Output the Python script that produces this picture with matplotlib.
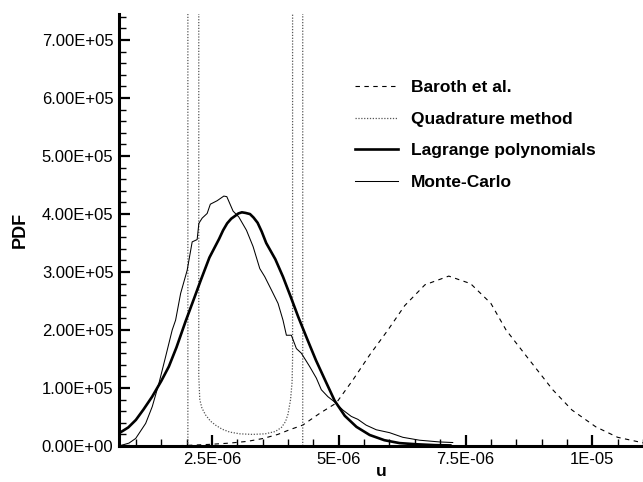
import matplotlib
matplotlib.use("Agg")
import matplotlib.pyplot as plt
from matplotlib.ticker import FixedLocator, MultipleLocator

plt.rcParams['font.family'] = ['Liberation Sans', 'DejaVu Sans']

# ---- data (u in 1e-6, PDF in 1e5) ----
baroth_u = [1.5, 2.0, 2.5, 2.85, 3.2, 3.51, 3.8, 4.03, 4.29, 4.62, 4.95, 5.28, 5.61, 5.97,
            6.3, 6.7, 7.17, 7.6, 8.0, 8.3, 8.7, 9.22, 9.6, 10.07, 10.5, 11.0]
baroth_v = [0.0, 0.01, 0.03, 0.05, 0.08, 0.13, 0.2, 0.28, 0.36, 0.56, 0.74, 1.14, 1.57, 2.0,
            2.42, 2.78, 2.93, 2.80, 2.46, 2.0, 1.55, 0.97, 0.62, 0.33, 0.15, 0.055]

quad_u = [0.94, 2.025, 2.025, 2.24, 2.24, 2.26, 2.30, 2.37, 2.47, 2.57, 2.70, 2.85, 3.05,
          3.30, 3.55, 3.75, 3.87, 3.95, 4.00, 4.05, 4.08, 4.09, 4.09, 4.29, 4.29, 9.10]
quad_v = [0, 0, 20, 20, 1.2, 0.80, 0.66, 0.54, 0.43, 0.36, 0.29, 0.24, 0.21,
          0.20, 0.21, 0.25, 0.32, 0.42, 0.55, 0.80, 1.10, 1.50, 20, 20, 0, 0]

lag_u = [0.667, 0.85, 1.0, 1.15, 1.32, 1.5, 1.65, 1.8, 1.98, 2.15, 2.28, 2.45, 2.64, 2.72,
         2.8, 2.88, 2.96, 3.02, 3.09, 3.16, 3.25, 3.32, 3.40, 3.48, 3.57, 3.75, 3.90, 4.05,
         4.20, 4.38, 4.55, 4.75, 4.92, 5.12, 5.35, 5.61, 5.9, 6.2, 6.53, 6.9, 7.2]
lag_v = [0.22, 0.32, 0.45, 0.63, 0.85, 1.12, 1.37, 1.70, 2.15, 2.55, 2.86, 3.25, 3.57, 3.72,
         3.84, 3.92, 3.97, 4.01, 4.03, 4.02, 4.00, 3.94, 3.85, 3.70, 3.50, 3.22, 2.92, 2.58,
         2.23, 1.84, 1.48, 1.10, 0.78, 0.52, 0.33, 0.19, 0.10, 0.05, 0.03, 0.015, 0.01]

mc_u = [0.667, 0.864, 0.996, 1.193, 1.323, 1.454, 1.586, 1.716, 1.783, 1.882, 2.011, 2.110,
        2.208, 2.242, 2.307, 2.405, 2.468, 2.602, 2.734, 2.793, 2.917, 3.029, 3.181, 3.311,
        3.443, 3.541, 3.673, 3.803, 3.901, 3.968, 4.066, 4.165, 4.263, 4.427, 4.559, 4.657,
        4.787, 4.919, 5.082, 5.248, 5.377, 5.54, 5.740, 6.002, 6.264, 6.592, 6.986, 7.248]
mc_v = [0.0, 0.05, 0.13, 0.39, 0.68, 1.08, 1.54, 2.0, 2.17, 2.63, 3.03, 3.52,
        3.56, 3.84, 3.93, 4.01, 4.17, 4.23, 4.31, 4.30, 4.05, 3.95, 3.72, 3.44,
        3.06, 2.92, 2.69, 2.46, 2.17, 1.91, 1.91, 1.68, 1.60, 1.37, 1.17, 0.97,
        0.85, 0.76, 0.62, 0.51, 0.46, 0.36, 0.28, 0.23, 0.15, 0.10, 0.07, 0.06]

legend_labels = ["Baroth et al.", "Quadrature method", "Lagrange polynomials", "Monte-Carlo"]
xtick_vals = [2.5e-6, 5e-6, 7.5e-6, 1e-5]
xtick_labels = ["2.5E-06", "5E-06", "7.5E-06", "1E-05"]
ytick_vals = [0, 1e5, 2e5, 3e5, 4e5, 5e5, 6e5, 7e5]
ytick_labels = ["0.00E+00", "1.00E+05", "2.00E+05", "3.00E+05",
                "4.00E+05", "5.00E+05", "6.00E+05", "7.00E+05"]

def sc(vals, f):
    return [v * f for v in vals]

fig = plt.figure(figsize=(6.43, 4.82), dpi=100)
ax = fig.add_axes([119 / 643, 1 - 446 / 482, 1 - 119 / 643, (446 - 14) / 482])

ax.plot(sc(baroth_u, 1e-6), sc(baroth_v, 1e5), color='black', lw=0.8,
        dashes=(4, 4), label=legend_labels[0])
ax.plot(sc(quad_u, 1e-6), sc(quad_v, 1e5), color='#555555', lw=0.9,
        dashes=(1, 1.3), label=legend_labels[1])
ax.plot(sc(lag_u, 1e-6), sc(lag_v, 1e5), color='black', lw=1.9,
        label=legend_labels[2])
ax.plot(sc(mc_u, 1e-6), sc(mc_v, 1e5), color='black', lw=0.75,
        label=legend_labels[3])

ax.set_xlim(0.667e-6, 1.1e-5)
ax.set_ylim(0, 7.45e5)

for s in ['top', 'right']:
    ax.spines[s].set_visible(False)
for s in ['left', 'bottom']:
    ax.spines[s].set_linewidth(2.2)

ax.xaxis.set_major_locator(FixedLocator(xtick_vals))
ax.set_xticklabels(xtick_labels)
ax.xaxis.set_minor_locator(MultipleLocator(5e-7))
ax.yaxis.set_major_locator(FixedLocator(ytick_vals))
ax.set_yticklabels(ytick_labels)
ax.yaxis.set_minor_locator(MultipleLocator(2e4))

ax.tick_params(which='both', direction='in', labelsize=12)
ax.tick_params(which='major', length=8, width=1.6, pad=4)
ax.tick_params(which='minor', length=4.8, width=1.0)

ax.set_xlabel("u", fontsize=12.5, fontweight='bold', labelpad=-2)
ax.set_ylabel("PDF", fontsize=13, fontweight='bold', labelpad=9)

leg = ax.legend(loc='upper left', bbox_to_anchor=(355 / 643, 1 - 80 / 482),
                bbox_transform=fig.transFigure, frameon=False,
                prop={'weight': 'bold', 'size': 12.5}, handlelength=2.5,
                handletextpad=0.7, labelspacing=0.95, borderpad=0, borderaxespad=0)

fig.savefig("out.png", dpi=100)
